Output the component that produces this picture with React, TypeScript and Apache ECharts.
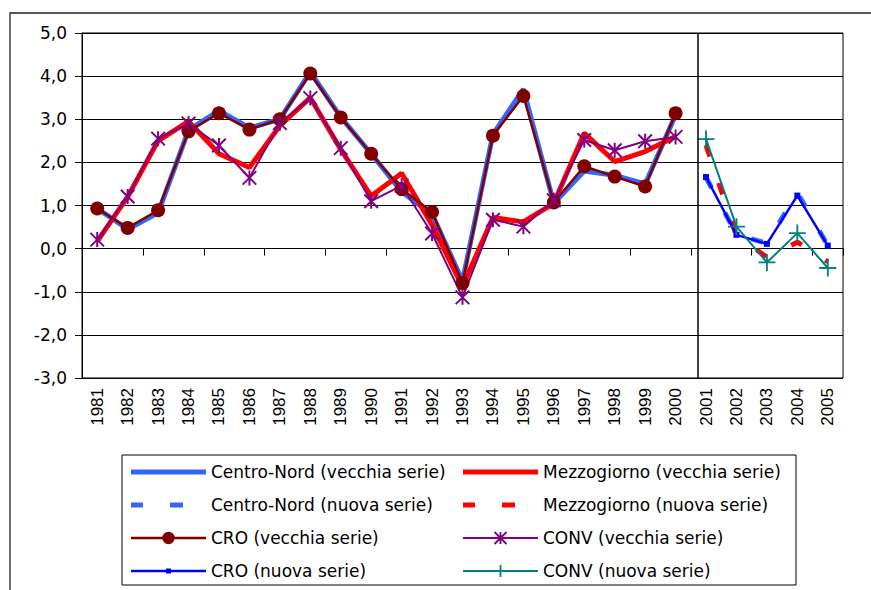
import React, { useEffect, useRef } from "react";
import * as echarts from "echarts";

const years = [
  "1981", "1982", "1983", "1984", "1985", "1986", "1987", "1988", "1989", "1990",
  "1991", "1992", "1993", "1994", "1995", "1996", "1997", "1998", "1999", "2000",
  "2001", "2002", "2003", "2004", "2005",
];

// vecchia serie: 1981-2000
const centroNordOld = [0.93, 0.45, 0.83, 2.75, 3.2, 2.8, 3.0, 4.1, 3.05, 2.2, 1.32, 0.8, -0.75, 2.65, 3.7, 1.05, 1.8, 1.7, 1.5, 3.1];
const mezzogiornoOld = [0.17, 1.2, 2.5, 2.95, 2.2, 1.88, 2.85, 3.5, 2.3, 1.22, 1.75, 0.55, -0.88, 0.72, 0.62, 1.05, 2.68, 2.02, 2.25, 2.6];
const croOld = [0.93, 0.48, 0.89, 2.72, 3.14, 2.76, 3.0, 4.06, 3.04, 2.2, 1.38, 0.85, -0.8, 2.62, 3.54, 1.07, 1.91, 1.67, 1.44, 3.14];
const convOld = [0.21, 1.21, 2.55, 2.9, 2.39, 1.64, 2.91, 3.49, 2.33, 1.1, 1.46, 0.35, -1.13, 0.67, 0.51, 1.12, 2.52, 2.28, 2.49, 2.59];

// nuova serie: 2001-2005
const centroNordNew = [1.65, 0.33, 0.12, 1.3, 0.07];
const mezzogiornoNew = [2.4, 0.3, -0.2, 0.15, -0.3];
const croNew = [1.66, 0.32, 0.11, 1.23, 0.07];
const convNew = [2.54, 0.51, -0.32, 0.36, -0.45];

const yTicks = { min: -3, max: 5, interval: 1 };

const N_OLD = centroNordOld.length;
const oldSeries = (a: number[]) => [...a, ...Array(years.length - a.length).fill(null)];
const newSeries = (a: number[]) => [...Array(N_OLD).fill(null), ...a];

const ASTERISK =
  "path://M8.7,0 L11.3,0 L11.3,20 L8.7,20 Z M1.92,0.08 L19.92,18.08 L18.08,19.92 L0.08,1.92 Z M19.92,1.92 L1.92,19.92 L0.08,18.08 L18.08,0.08 Z";
const PLUS = "path://M8.9,0 L11.1,0 L11.1,20 L8.9,20 Z M0,8.9 L20,8.9 L20,11.1 L0,11.1 Z";

// legend icons, drawn in a 75 x 14 box (corner specks keep the box)
const BOX = "M0,0 L0.01,0 L0,0.01 Z M75,14 L74.99,14 L75,13.99 Z ";
const ICON_SOLID = "path://" + BOX + "M0,4.5 L75,4.5 L75,9.5 L0,9.5 Z";
const ICON_DASH = "path://" + BOX + "M0,4.5 L12,4.5 L12,9.5 L0,9.5 Z M39,4.5 L52,4.5 L52,9.5 L39,9.5 Z";
const ICON_CIRCLE =
  "path://" + BOX +
  "M0,5.8 L32,5.8 L32,8.2 L0,8.2 Z M43,5.8 L75,5.8 L75,8.2 L43,8.2 Z M31.3,7 A6.2,6.2 0 1,1 43.7,7 A6.2,6.2 0 1,1 31.3,7 Z";
const ICON_STAR =
  "path://" + BOX +
  "M0,6.1 L75,6.1 L75,7.9 L0,7.9 Z M36.6,1 L38.4,1 L38.4,13 L36.6,13 Z " +
  "M32.14,0.36 L44.14,12.36 L42.86,13.64 L30.86,1.64 Z M44.14,1.64 L32.14,13.64 L30.86,12.36 L42.86,0.36 Z";
const ICON_SQUARE = "path://" + BOX + "M0,5.8 L75,5.8 L75,8.2 L0,8.2 Z M35,4.5 L40,4.5 L40,9.5 L35,9.5 Z";
const ICON_PLUS = "path://" + BOX + "M0,6.1 L75,6.1 L75,7.9 L0,7.9 Z M36.6,1 L38.4,1 L38.4,13 L36.6,13 Z";

const FONT = "DejaVu Sans";

export default function App() {
  const ref = useRef<HTMLDivElement>(null);
  useEffect(() => {
    document.body.style.margin = "0";
    const chart = echarts.init(ref.current!, undefined, { renderer: "svg" });
    const legendText = { fontFamily: FONT, fontSize: 17, color: "#000", lineHeight: 18 };
    const legendBase = {
      orient: "vertical",
      top: 463,
      padding: 0,
      itemWidth: 75,
      itemHeight: 14,
      itemGap: 15,
      textStyle: legendText,
      itemStyle: { borderWidth: 0 },
      lineStyle: { width: 0 },
    };
    chart.setOption({
      animation: false,
      backgroundColor: "#fff",
      grid: { left: 82, right: 28, top: 33, bottom: 212, show: true, borderColor: "#000", borderWidth: 1, backgroundColor: "transparent" },
      xAxis: [
        {
          type: "category",
          data: years,
          boundaryGap: true,
          axisLine: { onZero: true, lineStyle: { color: "#000", width: 1 } },
          axisTick: { show: true, length: 7, inside: false, lineStyle: { color: "#000" } },
          axisLabel: { show: false },
          splitLine: { show: false },
        },
        {
          type: "category",
          data: years,
          position: "bottom",
          boundaryGap: true,
          axisLine: { show: false, onZero: false },
          axisTick: { show: false },
          axisLabel: { rotate: 90, margin: 10, fontFamily: "Liberation Sans", fontSize: 17, color: "#000", interval: 0 },
          splitLine: { show: false },
        },
      ],
      yAxis: {
        type: "value",
        min: yTicks.min,
        max: yTicks.max,
        interval: yTicks.interval,
        axisLine: { show: true, lineStyle: { color: "#000", width: 1 } },
        axisTick: { show: true, length: 7, inside: false, lineStyle: { color: "#000" } },
        axisLabel: {
          margin: 15,
          fontFamily: FONT,
          fontSize: 17,
          color: "#000",
          formatter: (v: number) => v.toFixed(1).replace(".", ","),
        },
        splitLine: { show: true, lineStyle: { color: "#000", width: 1 } },
      },
      legend: [
        {
          ...legendBase,
          left: 131,
          data: [
            { name: "Centro-Nord (vecchia serie)", icon: ICON_SOLID },
            { name: "Centro-Nord (nuova serie)", icon: ICON_DASH },
            { name: "CRO (vecchia serie)", icon: ICON_CIRCLE },
            { name: "CRO (nuova serie)", icon: ICON_SQUARE },
          ],
        },
        {
          ...legendBase,
          left: 463,
          data: [
            { name: "Mezzogiorno (vecchia serie)", icon: ICON_SOLID },
            { name: "Mezzogiorno (nuova serie)", icon: ICON_DASH },
            { name: "CONV (vecchia serie)", icon: ICON_STAR },
            { name: "CONV (nuova serie)", icon: ICON_PLUS },
          ],
        },
      ],
      graphic: [
        { type: "rect", shape: { x: 10, y: 13, width: 900, height: 700 }, style: { fill: "none", stroke: "#222", lineWidth: 1.3 }, silent: true },
        { type: "rect", shape: { x: 122, y: 455, width: 674, height: 130 }, style: { fill: "none", stroke: "#000", lineWidth: 1 }, silent: true },
        { type: "line", shape: { x1: 698, y1: 33, x2: 698, y2: 378 }, style: { stroke: "#000", lineWidth: 1.5 }, silent: true, z: 10 },
      ],
      series: [
        {
          name: "Centro-Nord (vecchia serie)",
          type: "line",
          data: oldSeries(centroNordOld),
          symbol: "none",
          lineStyle: { color: "#3366FF", width: 5 },
          itemStyle: { color: "#3366FF" },
        },
        {
          name: "Mezzogiorno (vecchia serie)",
          type: "line",
          data: oldSeries(mezzogiornoOld),
          symbol: "none",
          lineStyle: { color: "#FF0000", width: 5 },
          itemStyle: { color: "#FF0000" },
        },
        {
          name: "Centro-Nord (nuova serie)",
          type: "line",
          data: newSeries(centroNordNew),
          symbol: "none",
          lineStyle: { color: "#3366FF", width: 5, type: [12, 28] },
          itemStyle: { color: "#3366FF" },
        },
        {
          name: "Mezzogiorno (nuova serie)",
          type: "line",
          data: newSeries(mezzogiornoNew),
          symbol: "none",
          lineStyle: { color: "#FF0000", width: 5, type: [12, 28] },
          itemStyle: { color: "#FF0000" },
        },
        {
          name: "CRO (vecchia serie)",
          type: "line",
          data: oldSeries(croOld),
          symbol: "circle",
          symbolSize: 14,
          lineStyle: { color: "#800000", width: 2.5 },
          itemStyle: { color: "#800000" },
        },
        {
          name: "CONV (vecchia serie)",
          type: "line",
          data: oldSeries(convOld),
          symbol: ASTERISK,
          symbolSize: 15,
          lineStyle: { color: "#800080", width: 2 },
          itemStyle: { color: "#800080" },
        },
        {
          name: "CRO (nuova serie)",
          type: "line",
          data: newSeries(croNew),
          symbol: "rect",
          symbolSize: 6,
          lineStyle: { color: "#0000FF", width: 2.5 },
          itemStyle: { color: "#0000FF" },
        },
        {
          name: "CONV (nuova serie)",
          type: "line",
          data: newSeries(convNew),
          symbol: PLUS,
          symbolSize: 17,
          lineStyle: { color: "#008080", width: 2 },
          itemStyle: { color: "#008080" },
        },
      ],
    });
    return () => chart.dispose();
  }, []);
  return <div ref={ref} style={{ width: 871, height: 590 }} />;
}
